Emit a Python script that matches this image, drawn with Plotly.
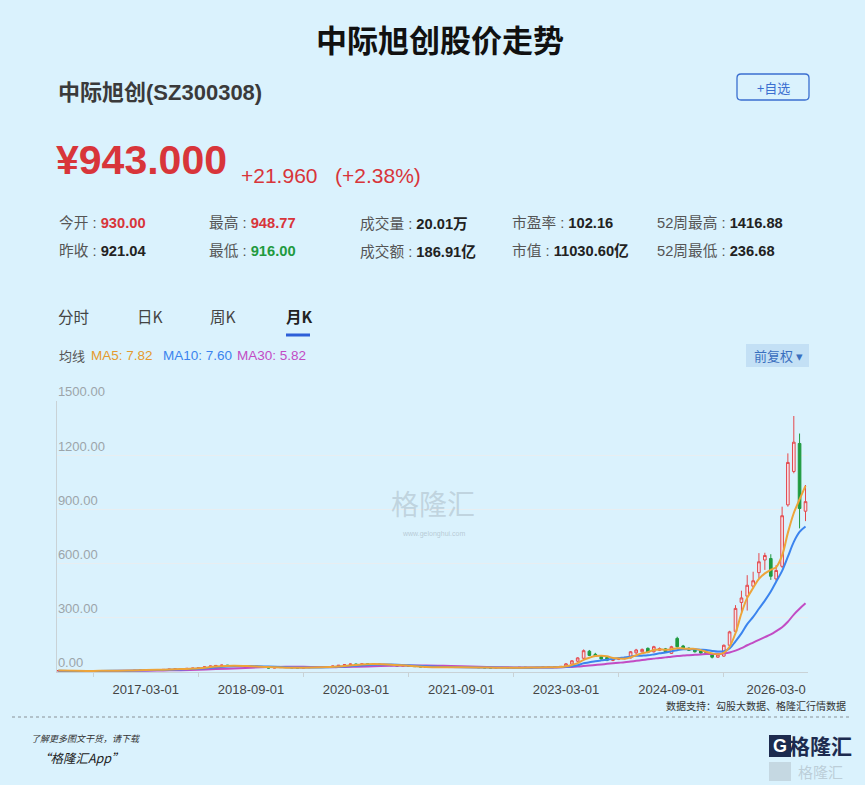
import pandas as pd
import plotly.graph_objects as go

# ---- datos mensuales (K mensual) 2015-12 .. 2026-08 ----
months = pd.date_range("2015-12-01", periods=129, freq="MS")

opens = [
    7.0,
    7.5, 6.8, 6.2, 6.5, 6.0, 6.3, 6.6, 7.0, 7.4, 7.1, 7.6, 7.9,
    8.3, 9.0, 10.4, 11.8, 13.2, 12.6, 14.3, 15.8, 17.2, 18.6, 20.1, 21.4,
    24.0, 28.5, 33.0, 36.2, 38.0, 35.1, 34.0, 31.8, 30.2, 31.0, 27.6, 25.0,
    22.0, 24.1, 26.3, 25.0, 23.2, 21.8, 24.0, 25.9, 27.1, 28.4, 30.2, 33.0,
    37.1, 40.2, 44.0, 41.8, 45.2, 43.0, 44.1, 40.3, 37.8, 35.2, 33.0, 34.1,
    31.8, 30.0, 28.1, 26.2, 25.1, 27.0, 26.1, 24.8, 27.2, 26.0, 25.3, 26.1,
    24.2, 23.0, 22.1, 24.0, 25.2, 23.1, 24.3, 26.0, 25.1, 24.0, 25.0, 27.1,
    28.0, 29.0, 30, 44, 60, 76, 115, 98, 86, 80, 64, 70,
    74, 78, 106, 112, 131, 112, 120, 128, 103, 186, 144, 132,
    125, 118, 110, 102, 82, 88, 148, 225, 385, 420, 475, 550,
    620, 628, 515, 585, 925, 1110, 1265, 890,
]
highs = [
    8.0,
    7.8, 7.0, 6.9, 6.7, 6.5, 6.9, 7.3, 7.8, 7.6, 7.9, 8.3, 8.7,
    9.4, 10.9, 12.3, 13.8, 13.6, 14.9, 16.5, 17.9, 19.4, 20.9, 22.3, 25.0,
    29.8, 34.5, 37.8, 40.2, 39.0, 36.5, 35.0, 32.6, 32.4, 31.8, 28.4, 25.6,
    24.9, 27.2, 27.0, 25.6, 23.8, 24.6, 26.6, 27.9, 29.2, 31.0, 34.0, 38.2,
    41.5, 46.3, 45.2, 46.5, 46.0, 45.5, 45.0, 41.2, 38.5, 36.0, 35.2, 34.6,
    32.3, 30.6, 28.7, 26.8, 27.6, 27.5, 26.6, 27.8, 27.6, 26.4, 26.8, 26.5,
    24.6, 23.5, 24.5, 25.8, 25.6, 24.8, 26.6, 26.4, 25.5, 25.5, 27.6, 28.6,
    29.6, 31.6, 50, 66, 82, 125, 122, 106, 90, 84, 76, 82,
    84, 116, 128, 130, 136, 145, 136, 133, 145, 195, 150, 136,
    130, 122, 114, 106, 100, 152, 228, 370, 450, 536, 555, 658,
    660, 652, 592, 915, 1210, 1417, 1320, 1035,
]
lows = [
    6.6,
    6.3, 5.9, 6.0, 5.8, 5.7, 6.1, 6.4, 6.8, 6.9, 7.0, 7.4, 7.6,
    8.0, 8.7, 10.0, 11.5, 12.1, 12.3, 13.9, 15.4, 16.8, 18.0, 19.6, 21.0,
    23.5, 27.6, 32.0, 34.8, 34.2, 33.0, 30.8, 29.2, 29.6, 27.0, 24.2, 21.2,
    21.5, 23.6, 24.4, 22.8, 21.0, 21.4, 23.5, 25.3, 26.5, 27.9, 29.8, 32.5,
    36.5, 39.4, 40.6, 40.9, 42.1, 42.2, 39.5, 37.0, 34.6, 32.4, 32.5, 31.2,
    29.4, 27.5, 25.6, 24.6, 24.8, 25.7, 24.3, 24.5, 25.5, 24.8, 25.0, 23.8,
    22.6, 21.6, 21.8, 23.6, 22.7, 22.8, 24.0, 24.7, 23.6, 23.7, 24.8, 26.8,
    27.5, 28.6, 28, 40, 55, 72, 88, 84, 68, 60, 60, 66,
    70, 75, 100, 106, 104, 108, 116, 108, 100, 135, 122, 116,
    108, 100, 94, 75, 78, 84, 135, 222, 330, 340, 465, 520,
    565, 510, 500, 575, 915, 1100, 795, 835,
]
closes = [
    7.5,
    6.8, 6.2, 6.5, 6.0, 6.3, 6.6, 7.0, 7.4, 7.1, 7.6, 7.9, 8.3,
    9.0, 10.4, 11.8, 13.2, 12.6, 14.3, 15.8, 17.2, 18.6, 20.1, 21.4, 24.0,
    28.5, 33.0, 36.2, 38.0, 35.1, 34.0, 31.8, 30.2, 31.0, 27.6, 25.0, 22.0,
    24.1, 26.3, 25.0, 23.2, 21.8, 24.0, 25.9, 27.1, 28.4, 30.2, 33.0, 37.1,
    40.2, 44.0, 41.8, 45.2, 43.0, 44.1, 40.3, 37.8, 35.2, 33.0, 34.1, 31.8,
    30.0, 28.1, 26.2, 25.1, 27.0, 26.1, 24.8, 27.2, 26.0, 25.3, 26.1, 24.2,
    23.0, 22.1, 24.0, 25.2, 23.1, 24.3, 26.0, 25.1, 24.0, 25.0, 27.1, 28.0,
    29.0, 31.0, 45, 62, 78, 118, 92, 88, 72, 65, 72, 78,
    80, 112, 122, 125, 109, 140, 130, 112, 140, 140, 127, 120,
    112, 105, 98, 82, 95, 148, 222, 352, 410, 480, 505, 610,
    645, 530, 562, 865, 1160, 1272, 905, 943,
]

# medias moviles (trimestral hasta 2022, luego mensual)
ma_dates = list(pd.date_range("2015-12-01", "2022-12-01", freq="3MS")) + \
    list(pd.date_range("2023-01-01", "2026-08-01", freq="MS"))
ma5 = [
    7.8, 6.4, 6.0, 7.1, 7.7, 10.5, 12.7, 16.3, 20.3, 30.0, 35.2, 32.2, 27.2, 24.0, 24.0,
    26.0, 31.0, 39.2, 43.6, 40.0, 34.4, 28.2, 26.4, 26.2, 25.2, 23.8, 23.6, 24.4, 25.8,
    26.6, 28.0,
    32, 39, 49, 67, 79, 88, 90, 87, 78, 75, 73, 81, 93, 103, 110, 122, 125, 123, 126,
    132, 130, 128, 128, 121, 112, 103, 98,
    106, 140, 215, 325, 410, 465, 515, 546, 566, 580, 645, 770, 880, 955, 1030,
]
ma10 = [
    7.6, 5.9, 5.8, 6.6, 7.3, 9.0, 11.5, 14.5, 18.0, 25.0, 31.5, 33.0, 30.0, 26.5, 24.5,
    25.0, 28.5, 35.0, 40.5, 41.0, 37.0, 31.5, 28.0, 26.0, 25.5, 24.5, 24.0, 24.0, 25.0,
    25.6, 26.5,
    28.4, 32.2, 37.4, 48.7, 53.5, 59.8, 64.3, 68, 72.3, 77, 80.5, 85.5, 89.9, 90.6, 92.3,
    97.5, 103.3, 108, 114.8, 121, 125.7, 126.5, 125.5, 123.5, 122.4, 116.6, 113.1,
    115, 130, 170, 214, 265, 305, 350, 395, 445, 500, 560, 638, 720, 775, 805,
]
ma30 = [
    5.8, 5.8, 5.9, 6.1, 6.5, 7.2, 8.5, 10.2, 12.5, 16.0, 20.0, 24.0, 27.0, 28.5, 28.5,
    27.5, 27.0, 29.0, 32.0, 34.5, 36.0, 35.5, 34.0, 31.5, 28.5, 26.5, 25.5, 25.0, 25.0,
    25.2, 25.6,
    27, 28, 30, 33, 36, 39, 42, 45, 48, 51, 54, 58, 62, 66, 70, 74, 78, 81, 85, 88, 91,
    93, 95, 97, 99, 100, 101,
    103, 108, 118, 132, 148, 163, 178, 193, 208, 226, 248, 278, 318, 350, 380,
]

x_ticks = ["2017-03-01", "2018-09-01", "2020-03-01", "2021-09-01", "2023-03-01", "2024-09-01", "2026-03-01"]
x_labels = ["2017-03-01", "2018-09-01", "2020-03-01", "2021-09-01", "2023-03-01", "2024-09-01", "2026-03-0"]
y_ticks = [0, 300, 600, 900, 1200, 1500]
y_labels = ["0.00", "300.00", "600.00", "900.00", "1200.00", "1500.00"]

stats = [
    ("今开 : ", "930.00", "#d8353a"), ("最高 : ", "948.77", "#d8353a"),
    ("成交量 : ", "20.01万", "#222"), ("市盈率 : ", "102.16", "#222"),
    ("52周最高 : ", "1416.88", "#222"),
    ("昨收 : ", "921.04", "#222"), ("最低 : ", "916.00", "#1f9a3f"),
    ("成交额 : ", "186.91亿", "#222"), ("市值 : ", "11030.60亿", "#222"),
    ("52周最低 : ", "236.68", "#222"),
]

BG = "#daf2fd"
FONT = "Liberation Sans, Noto Sans CJK SC, sans-serif"
CJK = "Noto Sans CJK SC, sans-serif"

# area de trazado en pixeles
PL, PR, PT, PB = 57, 808, 401, 672


def px(x):
    return (x - PL) / (PR - PL)


def py(y):
    return (PB - y) / (PB - PT)


def rounded(x0, y0, x1, y1, r):
    # rectangulo redondeado en coordenadas de papel
    a, b, c, d = px(x0), px(x1), py(y1), py(y0)
    rx, ry = r / (PR - PL), r / (PB - PT)
    return ("M %f,%f L %f,%f Q %f,%f %f,%f L %f,%f Q %f,%f %f,%f L %f,%f Q %f,%f %f,%f "
            "L %f,%f Q %f,%f %f,%f Z" % (
                a + rx, c, b - rx, c, b, c, b, c + ry, b, d - ry, b, d, b - rx, d,
                a + rx, d, a, d, a, d - ry, a, c + ry, a, c, a + rx, c))


fig = go.Figure()
fig.add_trace(go.Candlestick(
    x=months, open=opens, high=highs, low=lows, close=closes,
    increasing=dict(line=dict(color="#e4484c", width=1), fillcolor="#f4e4ec"),
    decreasing=dict(line=dict(color="#1f9a3f", width=1), fillcolor="#1f9a3f"),
    whiskerwidth=0, hoverinfo="skip",
))
for vals, col in [(ma30, "#c24cc4"), (ma10, "#3b84ee"), (ma5, "#eda43a")]:
    fig.add_trace(go.Scatter(x=ma_dates, y=vals, mode="lines", line=dict(color=col, width=2, shape="spline"),
                             hoverinfo="skip"))

ann = []


def text(x, y, s, size, color="#222", anchor="left", family=FONT, yanchor="middle"):
    ann.append(dict(x=px(x), y=py(y), xref="paper", yref="paper", text=s, showarrow=False,
                    xanchor=anchor, yanchor=yanchor, font=dict(size=size, color=color, family=family)))


text(440, 39, "<b>中际旭创股价走势</b>", 31, "#111", "center", CJK)
text(56, 93, "<b>中际旭创(SZ300308)</b>", 22, "#3a3a3a", family="Liberation Sans, Noto Sans CJK SC")
text(773, 87, "+自选", 13, "#3b6fd0", "center", CJK)
text(54, 160, "<b>¥943.000</b>", 41, "#d8353a")
text(239, 176, "+21.960&nbsp;&nbsp;&nbsp;(+2.38%)", 21, "#d8353a")

cols = [57, 207, 358, 510, 655]
for i, (lab, val, vcol) in enumerate(stats):
    text(cols[i % 5], 223 if i < 5 else 251,
         lab + "<b><span style='color:%s'>%s</span></b>" % (vcol, val), 14.7, "#555", family=FONT)

text(56, 316, "分时", 15.5, "#444", family=CJK)
text(135, 316, "日K", 15.5, "#444", family=CJK)
text(208, 316, "周K", 15.5, "#444", family=CJK)
text(284, 316, "<b>月K</b>", 15.5, "#222", family=CJK)

text(57, 355, "均线", 13, "#555", family=CJK)
text(89, 355, "MA5: 7.82", 13.5, "#e59a2e")
text(161, 355, "MA10: 7.60", 13.5, "#3b84ee")
text(235, 355, "MA30: 5.82", 13.5, "#c24cc4")
text(778, 355, "前复权 ▾", 13, "#3a6fbf", "center", CJK)

text(433, 503, "格隆汇", 28, "rgba(160,175,185,0.45)", "center", CJK)
text(433, 534, "www.gelonghui.com", 7, "rgba(160,175,185,0.6)", "center")

text(848, 705, "数据支持：勾股大数据、格隆汇行情数据", 10, "#333", "right", CJK)
text(29, 738, "<i>了解更多图文干货，请下载</i>", 9, "#333", family=CJK)
text(36, 757, "<i>“格隆汇App”</i>", 12.5, "#222", family=CJK)

text(780, 746, "<b>G</b>", 18, "#ffffff", "center")
text(820, 745, "<b>格隆汇</b>", 21, "#1d2b4f", "center", CJK)
text(820, 771, "格隆汇", 15, "rgba(175,190,200,0.7)", "center", CJK)

shapes = [
    dict(type="path", xref="paper", yref="paper", path=rounded(737, 74, 809, 100, 4),
         line=dict(color="#3b6fd0", width=1.3)),
    dict(type="rect", xref="paper", yref="paper", x0=px(746), x1=px(809), y0=py(367), y1=py(344),
         line=dict(width=0), fillcolor="#c3e0f5", layer="below"),
    dict(type="line", xref="paper", yref="paper", x0=px(286), x1=px(310), y0=py(335), y1=py(335),
         line=dict(color="#2d5fd8", width=3)),
    dict(type="line", xref="paper", yref="paper", x0=px(12), x1=px(852), y0=py(717), y1=py(717),
         line=dict(color="#8a9298", width=1, dash="dot")),
    dict(type="rect", xref="paper", yref="paper", x0=px(769), x1=px(791), y0=py(757), y1=py(735),
         line=dict(width=0), fillcolor="#1d2b4f", layer="below"),
    dict(type="rect", xref="paper", yref="paper", x0=px(769), x1=px(791), y0=py(781), y1=py(762),
         line=dict(width=0), fillcolor="rgba(175,190,200,0.5)", layer="below"),
]

fig.update_layout(
    width=865, height=785,
    margin=dict(l=PL, r=865 - PR, t=PT, b=785 - PB),
    paper_bgcolor=BG, plot_bgcolor=BG,
    showlegend=False,
    annotations=ann, shapes=shapes,
    font=dict(family=FONT),
    xaxis=dict(type="date", range=["2015-11-24", "2026-08-14"], rangeslider=dict(visible=False),
               tickvals=x_ticks, ticktext=x_labels, showgrid=False, ticks="",
               showline=True, linecolor="#c9d2d6", linewidth=1, ticklabelstandoff=5,
               tickfont=dict(size=13, color="#444"),
               minor=dict(ticks="outside", tick0="2016-06-01", dtick="M18", ticklen=4,
                          tickcolor="#c9d2d6", showgrid=False)),
    yaxis=dict(range=[0, 1500], tickvals=y_ticks, ticktext=y_labels, ticklabelposition="inside top",
               ticklabeloverflow="allow",
               gridcolor="#e8eef1", gridwidth=1, zeroline=False, showline=True, linecolor="#c9d2d6",
               tickfont=dict(size=13, color="#9ca5aa")),
)

# quitar el margen del body para que la figura ocupe la ventana
fig.write_html("out.html", config={"displayModeBar": False},
               post_script="document.body.style.margin='0';")
